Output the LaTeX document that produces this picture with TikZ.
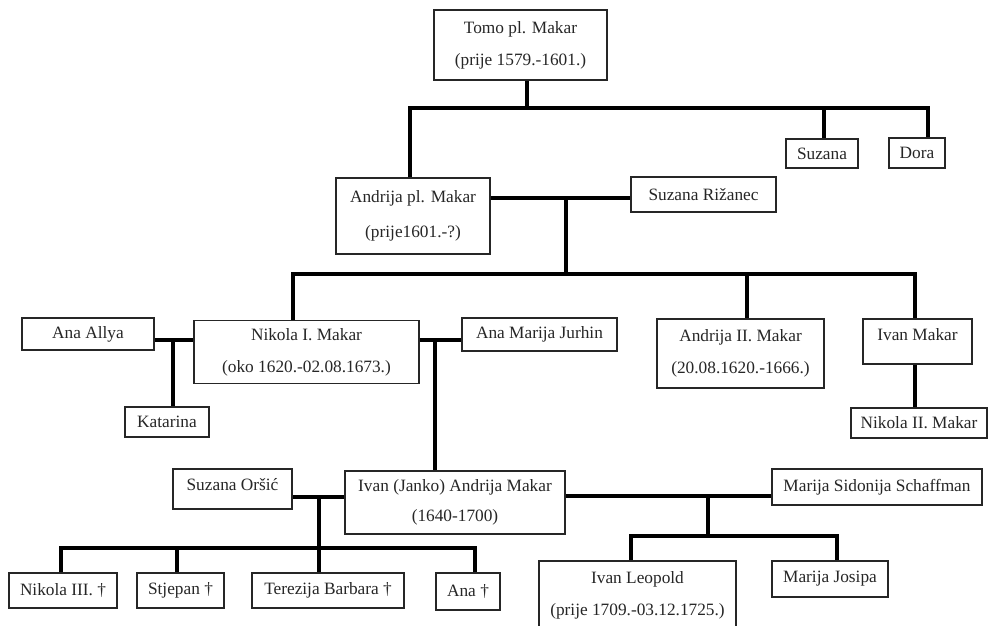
\documentclass[tikz,border=0pt]{standalone}
\usepackage{fontspec}
\setmainfont{Liberation Serif}
\begin{document}
\begin{tikzpicture}[x=1pt,y=-1pt,
  box/.style={draw=black!85, line width=1.4pt, inner sep=0pt, align=center,
    font=\fontsize{17.3}{32}\selectfont, text=black!85},
  conn/.style={draw=black, line width=4pt}]
\useasboundingbox (0,0) rectangle (988,626);
\clip (0,0) rectangle (988,626);
\fill[white] (0,0) rectangle (988,626);
% boxes
\node[box, minimum width=173pt, minimum height=70pt] (tomo) at (520.5,45) {Tomo pl. Makar\\(prije 1579.-1601.)};
\node[box, minimum width=72pt, minimum height=29pt] (suzana) at (822,153.5) {Suzana};
\node[box, minimum width=56pt, minimum height=30pt] (dora) at (917,153) {Dora};
\node[box, minimum width=154pt, minimum height=76pt, font=\fontsize{17.3}{35}\selectfont] (andrija) at (413,216) {Andrija pl. Makar\\(prije1601.-?)};
\node[box, minimum width=145pt, minimum height=35pt] (riz) at (703.5,194.5) {Suzana Rižanec};
\node[box, minimum width=225pt, minimum height=63pt] (nik1) at (306.5,352) {Nikola I. Makar\\(oko 1620.-02.08.1673.)};
\node[box, minimum width=132pt, minimum height=32pt] (anaallya) at (88,334) {Ana Allya};
\node[box, minimum width=84pt, minimum height=30pt] (katarina) at (167,422) {Katarina};
\node[box, minimum width=155pt, minimum height=33pt] (anamarija) at (539.5,334.5) {Ana Marija Jurhin};
\node[box, minimum width=167pt, minimum height=69pt] (andrija2) at (740.5,353.5) {Andrija II. Makar\\(20.08.1620.-1666.)};
\node[box, minimum width=109pt, minimum height=45pt, text depth=14pt] (ivanm) at (917.5,341.5) {Ivan Makar};
\node[box, minimum width=136pt, minimum height=30pt] (nik2) at (919,423) {Nikola II. Makar};
\node[box, minimum width=119pt, minimum height=40pt, text depth=10pt] (orsic) at (232.5,489) {Suzana Oršić};
\node[box, minimum width=220pt, minimum height=63pt, font=\fontsize{17.3}{30}\selectfont] (janko) at (455,502.5) {Ivan (Janko) Andrija Makar\\(1640-1700)};
\node[box, minimum width=210pt, minimum height=36pt] (schaff) at (877,487) {Marija Sidonija Schaffman};
\node[box, minimum width=108pt, minimum height=35pt] (nik3) at (63,590.5) {Nikola III. †};
\node[box, minimum width=87pt, minimum height=35pt] (stjepan) at (180.5,590.5) {Stjepan †};
\node[box, minimum width=152pt, minimum height=35pt] (terezija) at (328,590.5) {Terezija Barbara †};
\node[box, minimum width=64pt, minimum height=37pt] (ana) at (468,591.5) {Ana †};
\node[box, minimum width=197pt, minimum height=68pt] (leopold) at (637.5,595) {Ivan Leopold\\(prije 1709.-03.12.1725.)};
\node[box, minimum width=116pt, minimum height=36pt] (josipa) at (830,579) {Marija Josipa};
% bus coordinates
\coordinate (b1T) at (527,108);
\coordinate (b1L) at (410,108);
\coordinate (b1S) at (824,108);
\coordinate (b1R) at (928,108);
\coordinate (m1) at (566,198);
\coordinate (b2M) at (566,274);
\coordinate (b2L) at (293,274);
\coordinate (b2A) at (747,274);
\coordinate (b2R) at (915,274);
\coordinate (m2) at (173,340);
\coordinate (m3) at (435,340);
\coordinate (m4) at (319,497);
\coordinate (b3M) at (319,548);
\coordinate (b3L) at (61,548);
\coordinate (b3S) at (177,548);
\coordinate (b3R) at (475,548);
\coordinate (m5) at (708,496);
\coordinate (b4M) at (708,536);
\coordinate (b4L) at (631,536);
\coordinate (b4R) at (837,536);
% connectors
\draw[conn] (tomo.south -| b1T) -- (b1T);
\draw[conn] (andrija.north -| b1L) |- (b1R) -- (dora.north -| b1R);
\draw[conn] (b1S) -- (suzana.north -| b1S);
\draw[conn] (andrija.east |- m1) -- (riz.west |- m1);
\draw[conn] (m1) -- (b2M);
\draw[conn] (nik1.north -| b2L) |- (b2R) -- (ivanm.north -| b2R);
\draw[conn] (b2A) -- (andrija2.north -| b2A);
\draw[conn] (ivanm.south -| b2R) -- (nik2.north -| b2R);
\draw[conn] (anaallya.east |- m2) -- (nik1.west |- m2);
\draw[conn] (m2) -- (katarina.north -| m2);
\draw[conn] (nik1.east |- m3) -- (anamarija.west |- m3);
\draw[conn] (m3) -- (janko.north -| m3);
\draw[conn] (orsic.east |- m4) -- (janko.west |- m4);
\draw[conn] (m4) -- (b3M) -- (terezija.north -| b3M);
\draw[conn] (nik3.north -| b3L) |- (b3R) -- (ana.north -| b3R);
\draw[conn] (b3S) -- (stjepan.north -| b3S);
\draw[conn] (janko.east |- m5) -- (schaff.west |- m5);
\draw[conn] (m5) -- (b4M);
\draw[conn] (leopold.north -| b4L) |- (b4R) -- (josipa.north -| b4R);
\end{tikzpicture}
\end{document}
